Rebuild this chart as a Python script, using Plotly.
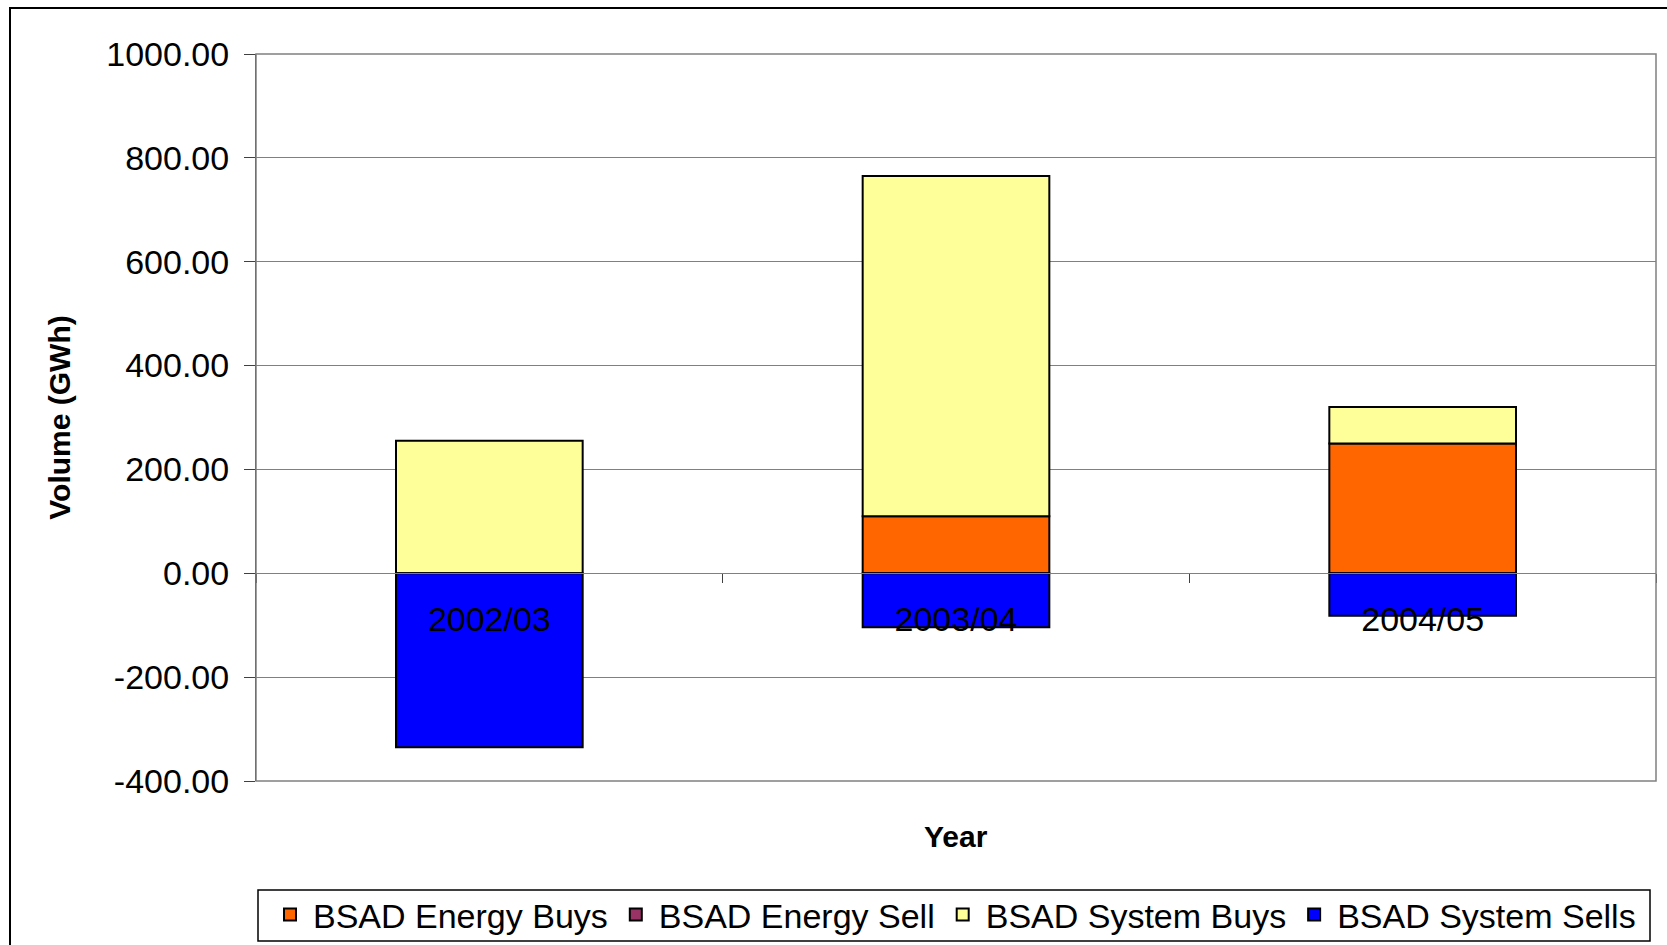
import plotly.graph_objects as go

years = ["2002/03", "2003/04", "2004/05"]
energy_buys = [None, 110, 250]
energy_sell = [None, None, None]
system_buys = [255, 655, 70]
system_sells = [-335, -104, -82]

y_ticks = [-400, -200, 0, 200, 400, 600, 800, 1000]
y_tick_text = ["-400.00", "-200.00", "0.00", "200.00", "400.00", "600.00", "800.00", "1000.00"]
y_min, y_max = -400, 1000

FONT = "Liberation Sans, Arial, sans-serif"
W, H = 1667, 945
ML, MR, MT, MB = 256, 11, 54, 164
PW, PH = W - ML - MR, H - MT - MB


def px_x(p):
    return (p - ML) / PW


def px_y(p):
    return (H - MB - p) / PH


fig = go.Figure()
series = [
    ("BSAD Energy Buys", energy_buys, "#FF6600"),
    ("BSAD Energy Sell", energy_sell, "#993366"),
    ("BSAD System Buys", system_buys, "#FFFF99"),
    ("BSAD System Sells", system_sells, "#0000FF"),
]
for name, vals, col in series:
    fig.add_trace(go.Bar(
        x=years, y=vals, name=name,
        marker=dict(color=col, line=dict(color="black", width=2)),
    ))

zero_pos = (0 - y_min) / (y_max - y_min)

fig.update_layout(
    width=W, height=H,
    margin=dict(l=ML, r=MR, t=MT, b=MB, autoexpand=False),
    barmode="relative",
    bargap=0.6,
    plot_bgcolor="white",
    paper_bgcolor="white",
    font=dict(family=FONT, size=34, color="black"),
    xaxis=dict(
        type="category",
        anchor="free",
        position=zero_pos,
        showline=True, linecolor="#808080", linewidth=1,
        ticks="outside", tickson="boundaries", ticklen=9,
        tickcolor="#404040", tickwidth=1,
        showgrid=False,
        tickfont=dict(size=34),
        ticklabelstandoff=16,
    ),
    yaxis=dict(
        range=[y_min, y_max],
        tickvals=y_ticks, ticktext=y_tick_text,
        showgrid=True, gridcolor="#808080", gridwidth=1,
        zeroline=False,
        showline=True, linecolor="#404040", linewidth=1,
        ticks="outside", ticklen=11, tickcolor="#404040",
        tickfont=dict(size=34),
        ticklabelstandoff=8,
        title=dict(text="<b>Volume (GWh)</b>", font=dict(size=30), standoff=26),
    ),
    legend=dict(
        orientation="h",
        x=px_x(954), xanchor="center", xref="paper",
        y=(H - 915) / H, yanchor="middle", yref="container",
        borderwidth=0, bgcolor="rgba(0,0,0,0)",
        font=dict(size=34),
        itemwidth=36,
        traceorder="normal",
    ),
    annotations=[dict(
        text="<b>Year</b>", x=0.5, y=px_y(836), xref="paper", yref="paper",
        showarrow=False, font=dict(size=30), xanchor="center", yanchor="middle",
    )],
    shapes=[
        dict(type="rect", xref="paper", yref="paper", x0=0, x1=1, y0=0, y1=1,
             line=dict(color="#808080", width=1.5), layer="above"),
        dict(type="rect", xref="paper", yref="paper",
             x0=px_x(10), x1=px_x(1690), y0=px_y(970), y1=px_y(8),
             line=dict(color="black", width=2)),
        dict(type="rect", xref="paper", yref="paper",
             x0=px_x(258), x1=px_x(1650), y0=px_y(941), y1=px_y(890),
             line=dict(color="black", width=1.5)),
    ],
)

fig.write_html("out.html", config={"displayModeBar": False},
               post_script="document.body.style.margin='0';document.body.style.overflow='hidden';")
